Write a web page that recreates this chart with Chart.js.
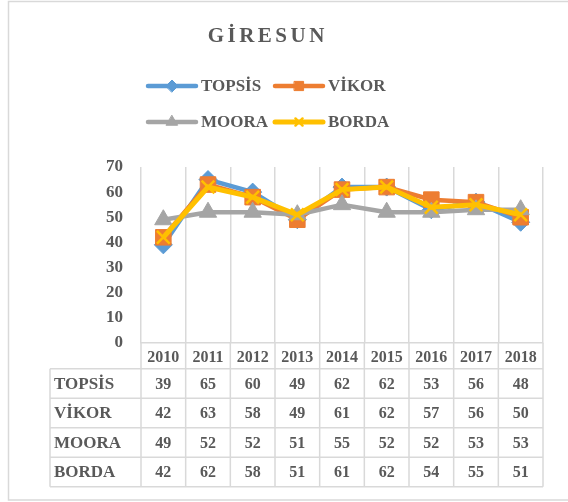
<!DOCTYPE html>
<html lang="tr">
<head>
<meta charset="UTF-8">
<title>Giresun</title>
<script src="https://cdn.jsdelivr.net/npm/chart.js"></script>
<style>
body { margin: 0; background: #fff; }
.kutu { width: 568px; height: 502px; position: relative; }
</style>
</head>
<body>
<div class="kutu"><canvas id="grafik" width="568" height="502"></canvas></div>
<script>
// veriler
const yillar = ['2010', '2011', '2012', '2013', '2014', '2015', '2016', '2017', '2018'];
const topsis = [39, 65, 60, 49, 62, 62, 53, 56, 48];
const vikor  = [42, 63, 58, 49, 61, 62, 57, 56, 50];
const moora  = [49, 52, 52, 51, 55, 52, 52, 53, 53];
const borda  = [42, 62, 58, 51, 61, 62, 54, 55, 51];

const yazi = '#595959';
const cizgi = '#d9d9d9';
const font = (s) => 'bold ' + s + 'px "Liberation Serif", "Times New Roman", serif';

// baslik, gosterge, veri tablosu ve cerceve
const ekler = {
    id: 'ekler',
    beforeDraw(chart) {
        const ctx = chart.ctx;
        ctx.save();
        ctx.fillStyle = '#fff';
        ctx.fillRect(0, 0, chart.width, chart.height);
        ctx.strokeStyle = cizgi;
        ctx.lineWidth = 1.5;
        ctx.strokeRect(8.5, 1.5, 620, 498.5);
        ctx.restore();
    },
    afterDraw(chart) {
        const ctx = chart.ctx;
        const ds = chart.data.datasets;
        ctx.save();

        // baslik
        ctx.fillStyle = yazi;
        ctx.font = font(21);
        ctx.letterSpacing = '3.5px';
        ctx.textBaseline = 'middle';
        ctx.textAlign = 'left';
        const baslik = 'GİRESUN';
        const bw = ctx.measureText(baslik).width - 3.5;
        ctx.fillText(baslik, 266 - bw / 2, 37);
        ctx.letterSpacing = '0px';

        // gosterge
        const kolonX = [148, 275];
        const satirY = [86, 122];
        const kucuk = [6, 6.5, 6.5, 5];
        ds.forEach((d, i) => {
            const x = kolonX[i % 2], y = satirY[Math.floor(i / 2)];
            ctx.strokeStyle = d.borderColor;
            ctx.lineWidth = d.borderWidth;
            ctx.lineCap = 'round';
            ctx.beginPath();
            ctx.moveTo(x, y);
            ctx.lineTo(x + 48, y);
            ctx.stroke();
            ctx.fillStyle = d.backgroundColor;
            ctx.lineWidth = d.pointStyle === 'crossRot' ? 2.5 : 1;
            Chart.helpers.drawPoint(ctx, {pointStyle: d.pointStyle, radius: kucuk[i], rotation: 0, borderWidth: ctx.lineWidth}, x + 24, y);
            ctx.fillStyle = yazi;
            ctx.font = font(17);
            ctx.textAlign = 'left';
            ctx.fillText(d.label, x + 53, y + 1);
        });

        // veri tablosu
        const xs = chart.scales.x;
        const alt = chart.chartArea.bottom;
        const sag = chart.chartArea.right;
        const sol = 50;
        const baslikH = 26, satirH = 29.5;
        const son = alt + baslikH + ds.length * satirH;
        const yarim = (xs.getPixelForValue(1) - xs.getPixelForValue(0)) / 2;
        ctx.strokeStyle = cizgi;
        ctx.lineWidth = 1.5;
        ctx.lineCap = 'butt';
        ctx.beginPath();
        for (let r = 0; r <= ds.length; r++) {
            const y = alt + baslikH + r * satirH;
            ctx.moveTo(sol, y);
            ctx.lineTo(sag, y);
        }
        ctx.moveTo(sol, alt + baslikH);
        ctx.lineTo(sol, son);
        for (let i = 0; i <= yillar.length; i++) {
            const x = i < yillar.length ? xs.getPixelForValue(i) - yarim : xs.getPixelForValue(i - 1) + yarim;
            ctx.moveTo(x, alt);
            ctx.lineTo(x, son);
        }
        ctx.stroke();

        ctx.fillStyle = yazi;
        ds.forEach((d, r) => {
            const y = alt + baslikH + (r + 0.5) * satirH + 1;
            ctx.font = font(17);
            ctx.textAlign = 'left';
            ctx.fillText(d.label, sol + 4, y);
            ctx.font = font(16);
            ctx.textAlign = 'center';
            d.data.forEach((v, i) => ctx.fillText(String(v), xs.getPixelForValue(i), y));
        });
        ctx.restore();
    }
};

new Chart(document.getElementById('grafik'), {
    type: 'line',
    data: {
        labels: yillar,
        datasets: [
            { label: 'TOPSİS', data: topsis, borderColor: '#5B9BD5', backgroundColor: '#5B9BD5',
              borderWidth: 4.5, pointStyle: 'rectRot', pointRadius: 9, pointBorderWidth: 1, order: 3 },
            { label: 'VİKOR', data: vikor, borderColor: '#ED7D31', backgroundColor: '#ED7D31',
              borderWidth: 4.5, pointStyle: 'rect', pointRadius: 11, pointBorderWidth: 1, order: 2 },
            { label: 'MOORA', data: moora, borderColor: '#A5A5A5', backgroundColor: '#A5A5A5',
              borderWidth: 4.5, pointStyle: 'triangle', pointRadius: 10, pointBorderWidth: 1, order: 1 },
            { label: 'BORDA', data: borda, borderColor: '#FFC000', backgroundColor: '#FFC000',
              borderWidth: 5, pointStyle: 'crossRot', pointRadius: 9, pointBorderWidth: 2.5, order: 0 }
        ]
    },
    options: {
        responsive: false,
        animation: false,
        layout: { padding: { top: 167, left: 50, right: 25, bottom: 130 } },
        plugins: {
            legend: { display: false },
            title: { display: false },
            tooltip: { enabled: false }
        },
        scales: {
            x: {
                offset: true,
                grid: { offset: true, color: cizgi, lineWidth: 1.5, drawTicks: false },
                border: { display: true, color: cizgi, width: 1.5 },
                ticks: { color: yazi, font: { family: 'Liberation Serif', size: 16, weight: 'bold' },
                         padding: 5, maxRotation: 0, autoSkip: false }
            },
            y: {
                min: 0,
                max: 70,
                grid: { display: false, drawTicks: false },
                border: { display: false },
                ticks: { stepSize: 10, color: yazi, padding: 18,
                         font: { family: 'Liberation Serif', size: 17, weight: 'bold' } },
                afterFit(s) { s.width = 91; }
            }
        }
    },
    plugins: [ekler]
});
</script>
</body>
</html>
